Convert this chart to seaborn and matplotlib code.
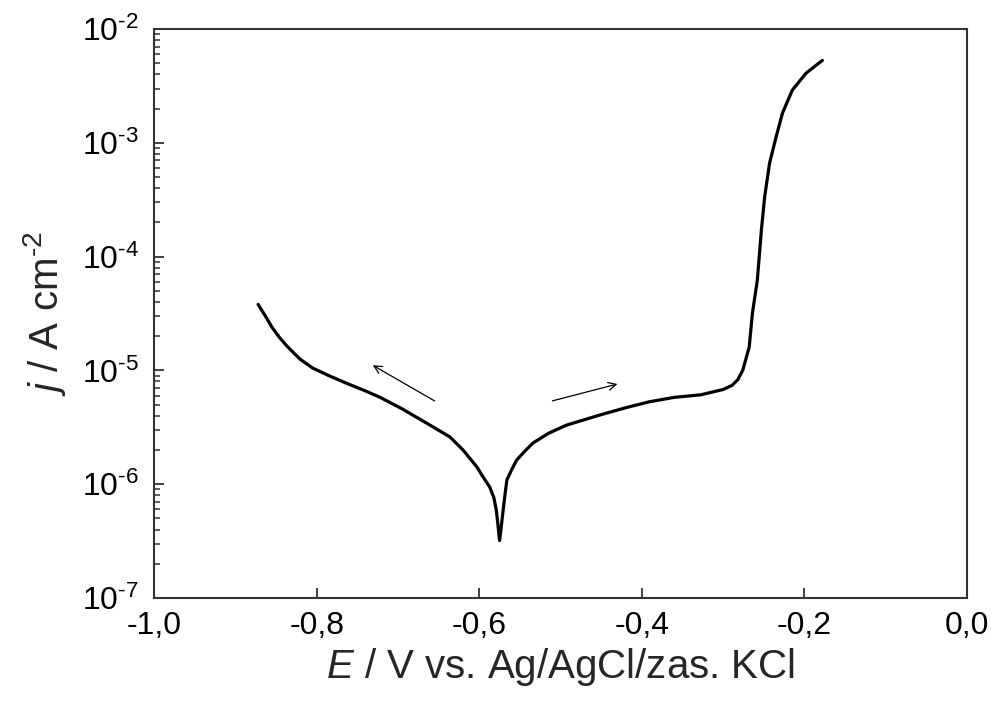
import math
import pandas as pd
import matplotlib.pyplot as plt
import matplotlib.ticker as mticker
import seaborn as sns

# Polarization curve (E in V, j in A cm-2)
potential = [-0.872, -0.863, -0.855, -0.846, -0.837, -0.828, -0.820, -0.805, -0.785, -0.763,
             -0.742, -0.722, -0.695, -0.665, -0.636, -0.620, -0.603, -0.595, -0.587, -0.582,
             -0.579, -0.577, -0.575, -0.573, -0.571, -0.568, -0.566, -0.560, -0.554, -0.544,
             -0.534, -0.515, -0.493, -0.452, -0.420, -0.391, -0.360, -0.328, -0.300, -0.289,
             -0.282, -0.276, -0.268, -0.264, -0.258, -0.253, -0.249, -0.243, -0.235, -0.227,
             -0.215, -0.198, -0.178]
current = [3.8e-5, 3.0e-5, 2.4e-5, 1.96e-5, 1.65e-5, 1.42e-5, 1.25e-5, 1.05e-5, 9.0e-6, 7.7e-6,
           6.7e-6, 5.8e-6, 4.6e-6, 3.45e-6, 2.6e-6, 2.0e-6, 1.42e-6, 1.15e-6, 9.4e-7, 7.6e-7,
           5.9e-7, 4.4e-7, 3.2e-7, 4.2e-7, 5.6e-7, 8.5e-7, 1.09e-6, 1.35e-6, 1.63e-6, 1.95e-6,
           2.3e-6, 2.8e-6, 3.3e-6, 4.05e-6, 4.7e-6, 5.3e-6, 5.8e-6, 6.1e-6, 6.8e-6, 7.4e-6,
           8.3e-6, 1.0e-5, 1.6e-5, 3.2e-5, 6.2e-5, 1.71e-4, 3.34e-4, 6.6e-4, 1.12e-3, 1.83e-3,
           2.9e-3, 4.1e-3, 5.3e-3]

# Scan direction arrows: (tail E, tail j, head E, head j)
arrow_cathodic = (-0.655, 5.4e-6, -0.731, 1.11e-5)
arrow_anodic = (-0.510, 5.4e-6, -0.430, 7.6e-6)

x_ticks = [-1.0, -0.8, -0.6, -0.4, -0.2, 0.0]
y_ticks = [1e-7, 1e-6, 1e-5, 1e-4, 1e-3, 1e-2]

df = pd.DataFrame({'E': potential, 'j': current})

sns.set_style('ticks')
plt.rcParams['font.family'] = ['Liberation Sans', 'DejaVu Sans']
plt.rcParams['mathtext.fontset'] = 'custom'
plt.rcParams['mathtext.rm'] = 'Liberation Sans'
plt.rcParams['mathtext.it'] = 'Liberation Sans:italic'

HYPHEN = '\u2010'

fig = plt.figure(figsize=(9.97, 7.2), dpi=100)
ax = fig.add_axes([0.1545, 0.1694, 0.8155, 0.7903])

# Plot the curve
sns.lineplot(data=df, x='E', y='j', ax=ax, color='black', linewidth=2.3,
             sort=False, estimator=None)
ax.set_yscale('log')
ax.set_xlim(-1.0, 0.0)
ax.set_ylim(1e-7, 1e-2)

# Arrows showing the scan direction
for tail_e, tail_j, head_e, head_j in [arrow_cathodic, arrow_anodic]:
    ax.annotate('', xy=(head_e, head_j), xytext=(tail_e, tail_j),
                arrowprops=dict(arrowstyle='->', color='black', lw=0.9,
                                shrinkA=0, shrinkB=0, mutation_scale=14))

# Ticks and labels
ax.set_xticks(x_ticks)
ax.xaxis.set_major_formatter(mticker.FuncFormatter(lambda v, p: f'{v:.1f}'.replace('.', ',')))
ax.xaxis.set_minor_locator(mticker.NullLocator())
ax.set_yticks(y_ticks)
ax.yaxis.set_major_formatter(mticker.FuncFormatter(
    lambda v, p: r'$\mathregular{10^{%s%d}}$' % (HYPHEN, abs(round(math.log10(v))))))
ax.yaxis.set_minor_locator(mticker.LogLocator(base=10, subs=range(2, 10), numticks=20))
ax.yaxis.set_minor_formatter(mticker.NullFormatter())

ax.tick_params(axis='both', which='major', direction='in', length=7, width=1.3,
               labelsize=23, colors='#333333', labelcolor='black')
ax.tick_params(axis='x', which='major', pad=9)
ax.tick_params(axis='y', which='major', pad=11)
ax.tick_params(axis='y', which='minor', direction='in', length=4, width=1.1, colors='#333333')
ax.tick_params(top=False, right=False, which='both')

for spine in ax.spines.values():
    spine.set_linewidth(1.5)
    spine.set_color('#333333')

ax.set_xlabel('$E$ / V vs. Ag/AgCl/zas. KCl', fontsize=29, labelpad=4)
ax.set_ylabel(r'$j$ / A cm$^{\mathregular{%s2}}$' % HYPHEN, fontsize=29, labelpad=10)

fig.savefig('out.png', dpi=100)
